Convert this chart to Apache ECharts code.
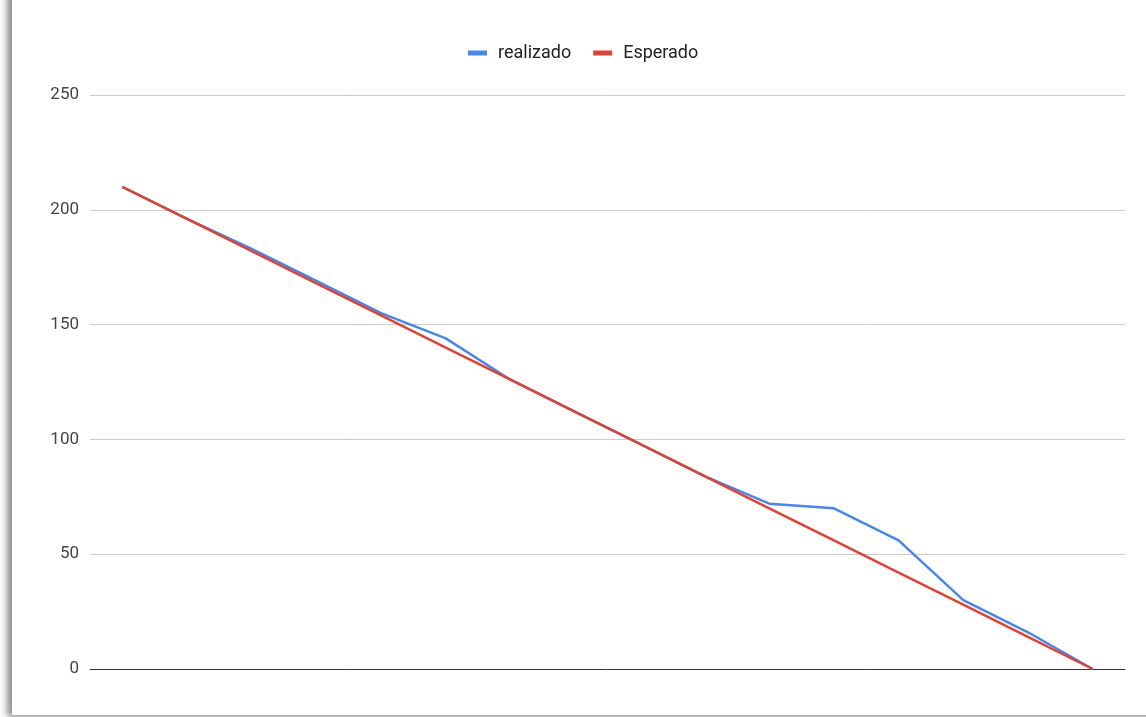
<!DOCTYPE html>
<html><head><meta charset="utf-8">
<script src="https://cdn.jsdelivr.net/npm/echarts@6/dist/echarts.min.js"></script>
<style>
html,body{margin:0;padding:0;background:#fff;overflow:hidden;width:1146px;height:717px;}
#card{position:absolute;left:12px;top:-20px;width:1200px;height:735px;background:#fff;box-shadow:-5px 2px 7px rgba(0,0,0,0.45);}
#chart{position:absolute;left:0;top:0;width:1146px;height:717px;}
</style></head>
<body>
<div id="card"></div>
<div id="chart"></div>
<script>
var categories = ['1','2','3','4','5','6','7','8','9','10','11','12','13','14','15','16'];
var realizado = [210,196,183,169,155,144,126,112,98,84,72,70,56,30,16,0];
var esperado = [210,196,182,168,154,140,126,112,98,84,70,56,42,28,14,0];
var yTicks = [0,50,100,150,200,250];

var chart = echarts.init(document.getElementById('chart'));
chart.setOption({
  animation:false,
  textStyle:{fontFamily:'Roboto, Arial, sans-serif'},
  legend:{
    top:44,left:468,padding:0,itemWidth:19,itemHeight:5,itemGap:22,
    icon:'rect',
    textStyle:{fontSize:18,color:'#222',padding:[0,0,0,6]},
    data:['realizado','Esperado']
  },
  grid:{left:90,right:21,top:95,bottom:48},
  xAxis:{
    type:'category',data:categories,boundaryGap:true,
    axisLine:{show:true,lineStyle:{color:'#333',width:1}},
    axisTick:{show:false},axisLabel:{show:false}
  },
  yAxis:{
    type:'value',min:yTicks[0],max:yTicks[yTicks.length-1],interval:50,
    axisLine:{show:false},axisTick:{show:false},
    axisLabel:{fontSize:17,color:'#444',margin:11},
    splitLine:{lineStyle:{color:'#cccccc',width:1}}
  },
  series:[
    {name:'realizado',type:'line',data:realizado,symbol:'none',
     lineStyle:{color:'#4a86e8',width:2.5},itemStyle:{color:'#4a86e8'}},
    {name:'Esperado',type:'line',data:esperado,symbol:'none',
     lineStyle:{color:'#db4437',width:2.5},itemStyle:{color:'#db4437'}}
  ]
});
</script>
</body></html>
